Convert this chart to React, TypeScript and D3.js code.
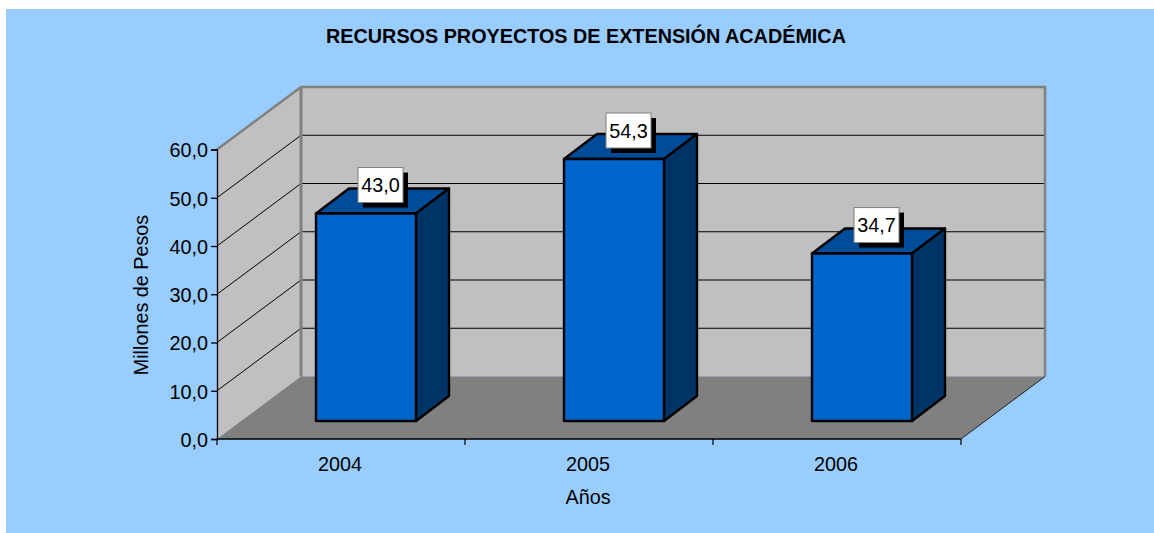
import {useEffect, useRef} from "react";
import * as d3 from "d3";

const years = ["2004", "2005", "2006"];
const values = [43.0, 54.3, 34.7];
const yTicks = [0, 10, 20, 30, 40, 50, 60];

const titleText = "RECURSOS PROYECTOS DE EXTENSIÓN ACADÉMICA";
const xTitle = "Años";
const yTitle = "Millones de Pesos";

const comma = (v: number) => v.toFixed(1).replace(".", ",");
const FONT = "'Liberation Sans', Arial, sans-serif";
const FS = 19.8;

const App = () => {
    const ref = useRef<SVGSVGElement | null>(null);

    useEffect(() => {
        if (!ref.current) return;
        const svg = d3.select(ref.current);
        svg.selectAll("*").remove();

        const x = d3.scaleBand<string>().domain(years).range([217, 961]);
        const y = d3.scaleLinear().domain([0, 60]).range([439, 149.5]);

        // depth of the box and of one bar
        const dx = 84, dy = -62.5;
        const barW = 100, barDx = 33, barDy = -25;
        const barOffX = 25, barOffY = -18;

        const [x0, x1] = x.range();
        const y0 = y(0), yTop = y(60);

        const pts = (p: number[][]) => p.map(d => d.join(",")).join(" ");

        svg.append("rect").attr("x", 6).attr("y", 9).attr("width", 1148).attr("height", 524).attr("fill", "#99ccff");

        // walls and floor
        svg.append("polygon")
            .attr("points", pts([[x0, y0], [x0, yTop], [x0 + dx, yTop + dy], [x0 + dx, y0 + dy]]))
            .attr("fill", "#c0c0c0");
        svg.append("polygon")
            .attr("points", pts([[x0 + dx, yTop + dy], [x1 + dx, yTop + dy], [x1 + dx, y0 + dy], [x0 + dx, y0 + dy]]))
            .attr("fill", "#c0c0c0");

        // gridlines
        const grid = svg.append("g");
        yTicks.filter(t => t > 0 && t < 60).forEach(t => {
            grid.append("polyline")
                .attr("points", pts([[x0, y(t)], [x0 + dx, y(t) + dy], [x1 + dx, y(t) + dy]]))
                .attr("fill", "none")
                .attr("stroke", "#000")
                .attr("stroke-width", 1);
        });

        svg.append("polygon")
            .attr("points", pts([[x0, y0], [x1, y0], [x1 + dx, y0 + dy], [x0 + dx, y0 + dy]]))
            .attr("fill", "#808080");

        // wall outline
        svg.append("polyline")
            .attr("points", pts([[x0, yTop], [x0 + dx, yTop + dy], [x1 + dx, yTop + dy], [x1 + dx, y0 + dy]]))
            .attr("fill", "none")
            .attr("stroke", "#808080")
            .attr("stroke-width", 2.5);
        svg.append("line")
            .attr("x1", x0 + dx).attr("x2", x0 + dx)
            .attr("y1", yTop + dy).attr("y2", y0 + dy)
            .attr("stroke", "#808080")
            .attr("stroke-width", 3);

        // floor right edge
        svg.append("line")
            .attr("x1", x1).attr("y1", y0)
            .attr("x2", x1 + dx).attr("y2", y0 + dy)
            .attr("stroke", "#222")
            .attr("stroke-width", 1);

        // bars
        const bars = svg.append("g").attr("stroke", "#000").attr("stroke-width", 2.4).attr("stroke-linejoin", "round");
        years.forEach((yr, i) => {
            const left = x(yr)! + (x.bandwidth() - barW) / 2 + barOffX;
            const right = left + barW;
            const bottom = y(0) + barOffY;
            const top = bottom - (y(0) - y(values[i]));

            bars.append("polygon")
                .attr("points", pts([[left, top], [right, top], [right + barDx, top + barDy], [left + barDx, top + barDy]]))
                .attr("fill", "#004c99");
            bars.append("polygon")
                .attr("points", pts([[right, top], [right + barDx, top + barDy], [right + barDx, bottom + barDy], [right, bottom]]))
                .attr("fill", "#003366");
            bars.append("rect")
                .attr("x", left).attr("y", top)
                .attr("width", barW).attr("height", bottom - top)
                .attr("fill", "#0066cc");
        });

        // axes
        const yAxis = d3.axisLeft(y).tickValues(yTicks).tickFormat(d => comma(+d)).tickSize(6).tickPadding(3);
        const gy = svg.append("g").attr("transform", `translate(${x0},0)`).call(yAxis);
        gy.selectAll("text").attr("font-size", FS).attr("font-family", FONT).attr("fill", "#000").attr("dy", "0.37em");
        gy.selectAll("line, path").attr("stroke", "#000").attr("stroke-width", 1.3);

        const gx = svg.append("g").attr("transform", `translate(0,${y0})`);
        gx.append("line").attr("x1", x0).attr("x2", x1).attr("stroke", "#000").attr("stroke-width", 1.3);
        d3.range(years.length + 1).forEach(i => {
            const tx = x0 + i * x.step();
            gx.append("line").attr("x1", tx).attr("x2", tx).attr("y1", 0).attr("y2", 6).attr("stroke", "#000").attr("stroke-width", 1.2);
        });
        years.forEach(yr => {
            gx.append("text")
                .attr("x", x(yr)! + x.bandwidth() / 2 - 1)
                .attr("y", 31.5)
                .attr("text-anchor", "middle")
                .attr("font-size", FS)
                .attr("font-family", FONT)
                .text(yr);
        });

        // data labels
        const boxW = 45, boxH = 35, shadow = 5;
        years.forEach((yr, i) => {
            const left = x(yr)! + (x.bandwidth() - barW) / 2 + barOffX;
            const cx = left + barW / 2 + 14.5;
            const top = y(0) + barOffY - (y(0) - y(values[i]));
            const by = top - 46;
            const g = svg.append("g");
            g.append("rect")
                .attr("x", cx - boxW / 2 + shadow).attr("y", by + shadow)
                .attr("width", boxW).attr("height", boxH)
                .attr("fill", "#000");
            g.append("rect")
                .attr("x", cx - boxW / 2).attr("y", by)
                .attr("width", boxW).attr("height", boxH)
                .attr("fill", "#fff")
                .attr("stroke", "#808080")
                .attr("stroke-width", 1);
            g.append("text")
                .attr("x", cx).attr("y", by + boxH / 2 + 7)
                .attr("text-anchor", "middle")
                .attr("font-size", FS)
                .attr("font-family", FONT)
                .text(comma(values[i]));
        });

        // titles
        svg.append("text")
            .attr("x", 586).attr("y", 42.5)
            .attr("text-anchor", "middle")
            .attr("font-size", FS)
            .attr("font-weight", "bold")
            .attr("font-family", FONT)
            .text(titleText);
        svg.append("text")
            .attr("x", 588).attr("y", 503.5)
            .attr("text-anchor", "middle")
            .attr("font-size", FS)
            .attr("font-family", FONT)
            .text(xTitle);
        svg.append("text")
            .attr("transform", "translate(148,295) rotate(-90)")
            .attr("text-anchor", "middle")
            .attr("font-size", FS)
            .attr("font-family", FONT)
            .text(yTitle);
    }, []);

    return (
        <svg
            ref={ref}
            width={1154}
            height={533}
            style={{position: "absolute", left: 0, top: 0, display: "block"}}/>
    );
};

export default App;
